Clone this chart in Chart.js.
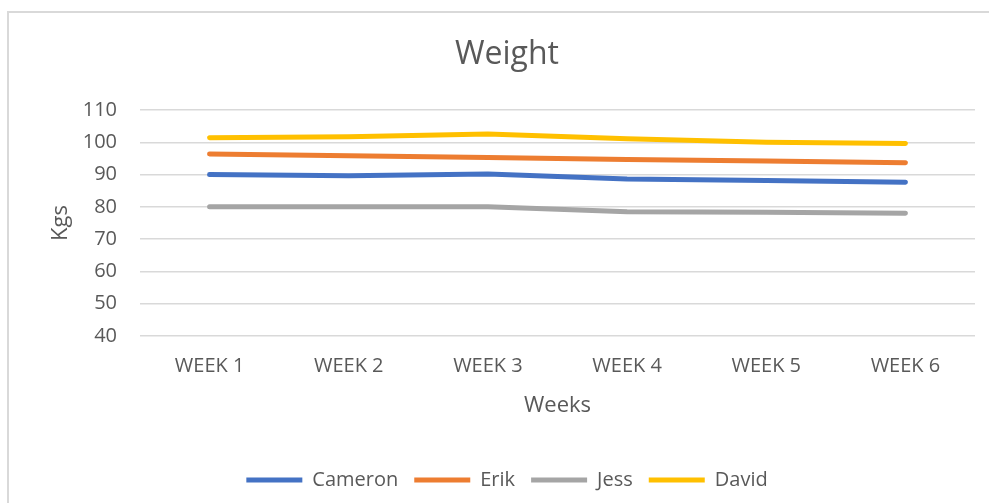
<!DOCTYPE html>
<html>
<head>
<meta charset="utf-8">
<script src="https://cdn.jsdelivr.net/npm/chart.js@4/dist/chart.umd.min.js"></script>
<style>
  body { margin: 0; background: #fff; overflow: hidden; }
  #frame { position: absolute; left: 7px; top: 11px; width: 1000px; height: 520px;
           border-left: 2px solid #d9d9d9; border-top: 2px solid #d9d9d9; }
  #wrap { position: absolute; left: 0; top: 0; width: 989px; height: 503px; }
</style>
</head>
<body>
<div id="frame"></div>
<div id="wrap"><canvas id="weightChart"></canvas></div>
<script>
// weekly weights
const weeks = ['WEEK 1', 'WEEK 2', 'WEEK 3', 'WEEK 4', 'WEEK 5', 'WEEK 6'];

const cameron = [90.0, 89.6, 90.2, 88.6, 88.2, 87.6];
const erik    = [96.4, 95.8, 95.3, 94.7, 94.2, 93.7];
const jess    = [80.0, 80.0, 80.0, 78.5, 78.3, 78.0];
const david   = [101.4, 101.7, 102.6, 101.1, 100.0, 99.6];

const yTicks = [40, 50, 60, 70, 80, 90, 100, 110];

const textColor = '#595959';
const font = '"Open Sans", "Noto Sans", sans-serif';

function line(label, data, color) {
    return {
        label: label,
        data: data,
        borderColor: color,
        backgroundColor: color,
        borderWidth: 5,
        borderCapStyle: 'round',
        borderJoinStyle: 'round',
        pointRadius: 0,
        pointHoverRadius: 0,
        tension: 0,
        fill: false,
    };
}

const ctx = document.getElementById('weightChart').getContext('2d');

const weightChart = new Chart(ctx, {
    type: 'line',
    data: {
        labels: weeks,
        datasets: [
            line('Cameron', cameron, '#4472c4'),
            line('Erik', erik, '#ed7d31'),
            line('Jess', jess, '#a5a5a5'),
            line('David', david, '#ffc000'),
        ],
    },
    options: {
        responsive: true,
        maintainAspectRatio: false,
        animation: false,
        layout: { padding: { left: 39, right: 14, top: 0, bottom: 3 } },
        plugins: {
            title: {
                display: true,
                text: 'Weight',
                color: textColor,
                font: { family: font, size: 32, weight: 'normal' },
                padding: { top: 35.8, bottom: 35.8 },
            },
            legend: {
                position: 'bottom',
                labels: {
                    color: textColor,
                    font: { family: font, size: 20 },
                    boxWidth: 56,
                    boxHeight: 5,
                    padding: 16,
                    generateLabels: (chart) => chart.data.datasets.map((ds, i) => ({
                        text: ds.label,
                        fillStyle: ds.borderColor,
                        strokeStyle: ds.borderColor,
                        lineWidth: 0,
                        fontColor: textColor,
                        datasetIndex: i,
                        hidden: false,
                    })),
                },
            },
            tooltip: { enabled: false },
        },
        scales: {
            x: {
                offset: true,
                grid: { display: false, drawTicks: false },
                border: { display: false },
                ticks: { color: textColor, font: { family: font, size: 20 }, padding: 18, maxRotation: 0 },
                title: {
                    display: true,
                    text: 'Weeks',
                    color: textColor,
                    font: { family: font, size: 22 },
                    padding: { top: 0, bottom: 34.8 },
                },
                afterFit: (scale) => { scale.height = 118; },
            },
            y: {
                min: 40,
                max: 110,
                afterBuildTicks: (scale) => { scale.ticks = yTicks.map(v => ({ value: v })); },
                grid: { color: '#d9d9d9', lineWidth: 1.5, drawTicks: false },
                border: { display: false },
                ticks: { color: textColor, font: { family: font, size: 20 }, padding: 23 },
                title: {
                    display: true,
                    text: 'Kgs',
                    color: textColor,
                    font: { family: font, size: 22 },
                    padding: { top: 8.8, bottom: 0 },
                },
                afterFit: (scale) => { scale.width = 101; },
            },
        },
    },
});
</script>
</body>
</html>
